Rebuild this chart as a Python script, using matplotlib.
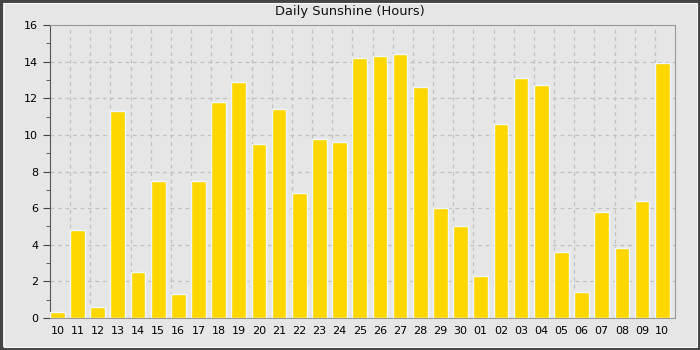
import numpy as np
import matplotlib
matplotlib.use('Agg')
import matplotlib.pyplot as plt
from matplotlib.patches import Rectangle

# day labels and sunshine hours
days = ['10', '11', '12', '13', '14', '15', '16', '17', '18', '19', '20', '21',
        '22', '23', '24', '25', '26', '27', '28', '29', '30', '01', '02', '03',
        '04', '05', '06', '07', '08', '09', '10']
hours = [0.35, 4.8, 0.6, 11.3, 2.5, 7.5, 1.3, 7.5, 11.8, 12.9, 9.5, 11.4,
         6.8, 9.8, 9.6, 14.2, 14.3, 14.4, 12.6, 6.0, 5.0, 2.3, 10.6, 13.1,
         12.7, 3.6, 1.4, 5.8, 3.8, 6.4, 13.95]

bg = '#e6e6e6'
fig = plt.figure(figsize=(7, 3.5), dpi=100, facecolor=bg)
ax = fig.add_axes([50 / 700, 32 / 350, 625 / 700, 293 / 350])
ax.set_facecolor(bg)

x = np.arange(len(hours))
bar_w = 0.73
ax.bar(x, hours, width=bar_w, align='edge', color='#ffd700',
       edgecolor='#eef6ff', linewidth=1, zorder=3)

ax.set_xlim(0, len(hours))
ax.set_ylim(0, 16)

# labels under bar centres, grid lines on slot boundaries
ax.set_xticks(x + bar_w / 2)
ax.set_xticklabels(days)
ax.set_xticks(np.arange(1, len(hours)), minor=True)
ax.tick_params(axis='x', which='both', length=0, pad=6, labelsize=8)
ax.set_yticks(np.arange(0, 17, 2))
ax.set_yticks(np.arange(1, 16, 2), minor=True)
ax.tick_params(axis='y', which='major', length=5, labelsize=8, color='#444444')
ax.tick_params(axis='y', which='minor', length=3, color='#444444')

ax.grid(which='minor', axis='x', color='#c0c0c0', linestyle=(0, (3, 3)), linewidth=0.9, zorder=0)
ax.grid(which='major', axis='y', color='#c0c0c0', linestyle=(0, (3, 3)), linewidth=0.9, zorder=0)

for side in ['top', 'right', 'bottom', 'left']:
    ax.spines[side].set_color('#999999')
ax.spines['left'].set_color('#555555')

fig.text(0.5, 1 - 12 / 350, 'Daily Sunshine (Hours)', ha='center', va='center',
         fontsize=9.4, color='#111111')

# outer frame: dark border, thin light line inside
fig.patches.append(Rectangle((0, 0), 1, 1, transform=fig.transFigure,
                             fill=False, edgecolor='#444444', linewidth=4, joinstyle='miter'))
fig.patches.append(Rectangle((1 / 700, 1 / 350), 698 / 700, 348 / 350, transform=fig.transFigure,
                             fill=False, edgecolor='#444444', linewidth=2, joinstyle='miter'))
fig.patches.append(Rectangle((3.5 / 700, 3.5 / 350), 693 / 700, 343.5 / 350, transform=fig.transFigure,
                             fill=False, edgecolor='#f6f6f6', linewidth=0.8, joinstyle='miter'))

fig.savefig('out.png', dpi=100, facecolor=bg)
